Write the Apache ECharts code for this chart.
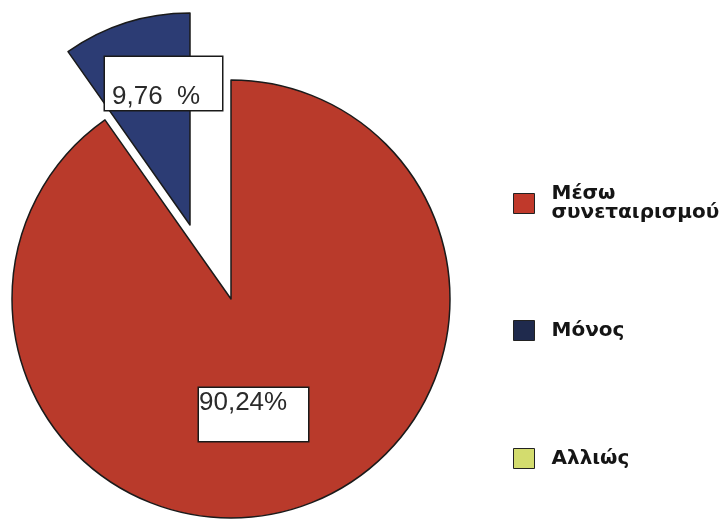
<!DOCTYPE html>
<html>
<head>
<meta charset="utf-8">
<script src="https://cdn.jsdelivr.net/npm/echarts@6/dist/echarts.min.js"></script>
<style>html,body{margin:0;padding:0;background:#fff}#c{width:724px;height:521px}</style>
</head>
<body>
<div id="c"></div>
<script>
const categories = ['Μέσω συνεταιρισμού', 'Μόνος', 'Αλλιώς'];
const shares = [90.24, 9.76, 0];
const labelTexts = ['90,24%', '9,76  %', ''];
const colors = ['#b93a2b', '#2c3c74', '#d3dc6e'];
const legendColors = ['#c0392b', '#1f2a4d', '#d3dc6e'];

const chart = echarts.init(document.getElementById('c'), null, {renderer: 'canvas'});

function buildData(visibleIndex) {
  return categories.map((name, i) => {
    const visible = i === visibleIndex;
    return {
      name: name,
      value: shares[i],
      itemStyle: visible
        ? {color: colors[i], borderColor: '#1a1a1a', borderWidth: 1.5}
        : {color: 'rgba(0,0,0,0)', borderWidth: 0},
      label: {show: visible && labelTexts[i] !== ''}
    };
  });
}

const labelBase = {
  formatter: p => labelTexts[p.dataIndex],
  fontFamily: 'Liberation Sans, Arial, sans-serif',
  fontSize: 26,
  lineHeight: 26,
  color: '#2a2a2a',
  backgroundColor: '#fff',
  borderColor: '#1a1a1a',
  borderWidth: 1.5
};

const legendTpl = (idx, top) => ({
  orient: 'vertical',
  left: 508,
  top: top,
  icon: 'rect',
  itemWidth: 21,
  itemHeight: 20,
  selectedMode: false,
  data: [{name: categories[idx], itemStyle: {color: legendColors[idx], borderColor: '#222', borderWidth: 1}}],
  formatter: n => n.replace(' ', '\n'),
  textStyle: {
    fontFamily: 'DejaVu Sans, sans-serif',
    fontWeight: 'bold',
    fontSize: 20,
    lineHeight: 19,
    color: '#151515',
    padding: [0, 0, 0, 12]
  }
});

chart.setOption({
  animation: false,
  backgroundColor: '#fff',
  legend: [legendTpl(0, 179), legendTpl(1, 315), legendTpl(2, 443)],
  series: [
    {
      type: 'pie',
      center: [231, 299],
      radius: 219,
      startAngle: 90,
      clockwise: true,
      silent: true,
      avoidLabelOverlap: false,
      labelLine: {show: false},
      label: Object.assign({}, labelBase, {
        position: 'inside',
        width: 109, height: 26, padding: [2, 0, 25, 0], align: 'left'
      }),
      labelLayout: p => ({x: 199, y: 388, align: 'left', verticalAlign: 'top'}),
      data: buildData(0)
    },
    {
      type: 'pie',
      center: [190, 225],
      radius: 212,
      startAngle: 90,
      clockwise: true,
      silent: true,
      avoidLabelOverlap: false,
      labelLine: {show: false},
      label: Object.assign({}, labelBase, {
        position: 'inside',
        width: 110, height: 26, padding: [27, 0, 0, 7], align: 'left'
      }),
      labelLayout: p => ({x: 105, y: 57, align: 'left', verticalAlign: 'top'}),
      data: buildData(1)
    }
  ]
});
</script>
</body>
</html>
